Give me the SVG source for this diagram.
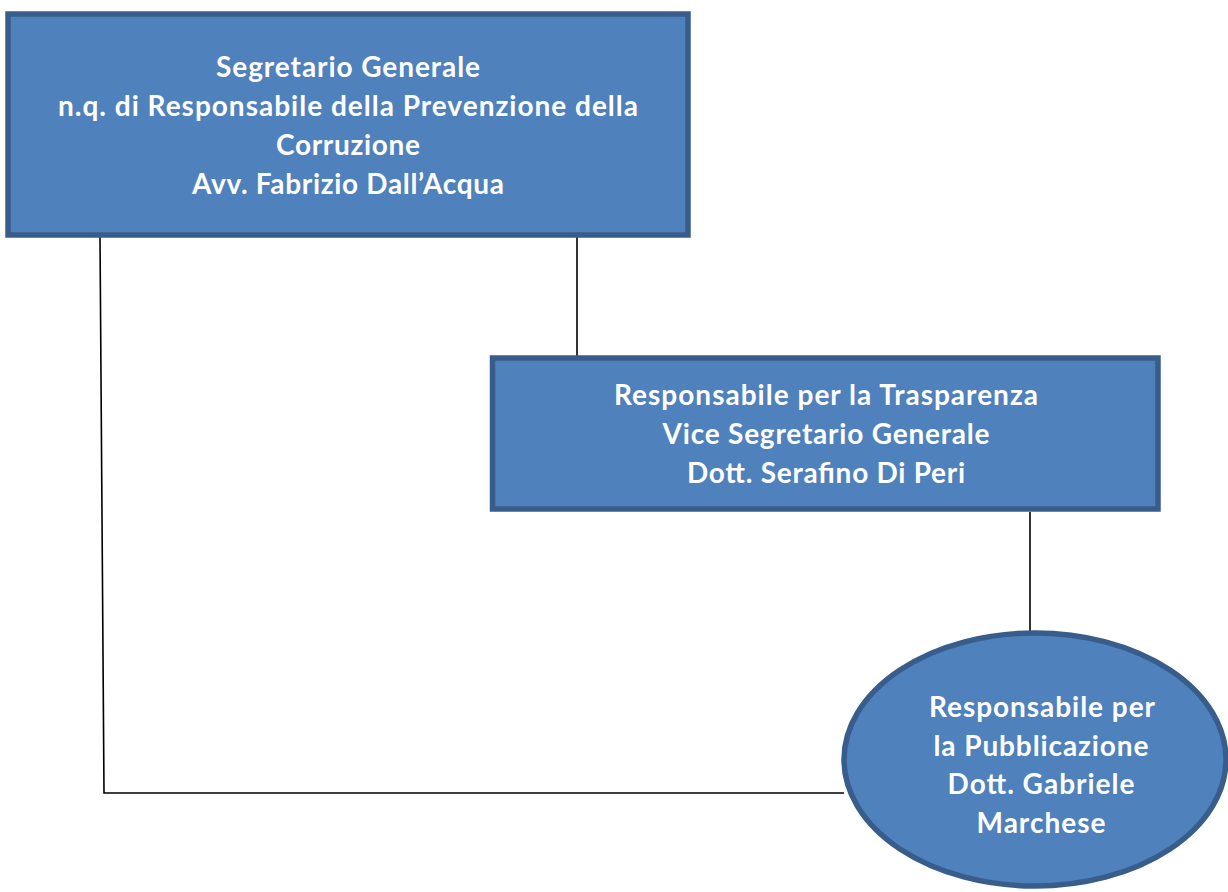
<svg xmlns="http://www.w3.org/2000/svg" width="1228" height="892" viewBox="0 0 1228 892">
  <style>
    .box { fill: #4f81bd; stroke: #385d8a; stroke-width: 5.5; }
    .label { font-family: Lato, "Open Sans", "Liberation Sans", sans-serif; font-weight: bold; font-size: 28px; fill: #ffffff; text-anchor: middle; }
    .wire { fill: none; stroke: #000000; stroke-width: 1.6; }
  </style>
  <rect width="1228" height="892" fill="#ffffff"/>

  <g id="connectors">
    <polyline class="wire" points="100,237 104,793 844,793"/>
    <line class="wire" x1="577" y1="237" x2="577" y2="356"/>
    <line class="wire" x1="1030" y1="512" x2="1030" y2="631"/>
  </g>

  <g id="segretario-generale">
    <rect class="box" x="8" y="14" width="680" height="221"/>
    <text class="label" x="348" y="77" textLength="264">Segretario Generale</text>
    <text class="label" x="348" y="116" textLength="580">n.q. di Responsabile della Prevenzione della</text>
    <text class="label" x="348" y="155" textLength="144">Corruzione</text>
    <text class="label" x="348" y="194" textLength="312">Avv. Fabrizio Dall’Acqua</text>
  </g>

  <g id="responsabile-trasparenza">
    <rect class="box" x="492.5" y="358" width="665.5" height="151"/>
    <text class="label" x="826" y="405" textLength="424">Responsabile per la Trasparenza</text>
    <text class="label" x="826" y="444" textLength="327">Vice Segretario Generale</text>
    <text class="label" x="826" y="483" textLength="278">Dott. Serafino Di Peri</text>
  </g>

  <g id="responsabile-pubblicazione">
    <ellipse class="box" cx="1035" cy="759.5" rx="191" ry="126.5"/>
    <text class="label" x="1042" y="717" textLength="226">Responsabile per</text>
    <text class="label" x="1041" y="755.5" textLength="215">la Pubblicazione</text>
    <text class="label" x="1041" y="794" textLength="187">Dott. Gabriele</text>
    <text class="label" x="1041" y="833" textLength="129">Marchese</text>
  </g>
</svg>
